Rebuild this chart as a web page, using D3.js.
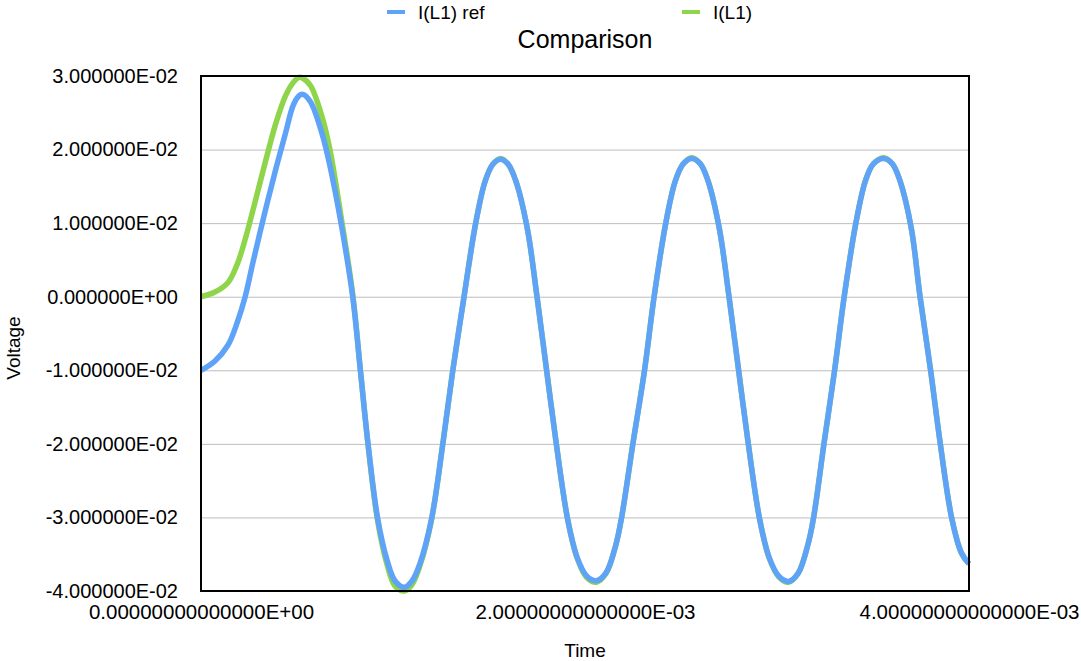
<!DOCTYPE html>
<html lang="en">
<head>
    <meta charset="UTF-8">
    <title>Comparison</title>
    <script src="https://d3js.org/d3.v7.min.js"></script>
    <style>
        body {
            margin: 0;
            background: white;
            font-family: "Liberation Sans", Arial, sans-serif;
        }
        .tick-label {
            font-size: 20px;
            fill: black;
        }
        .grid line {
            stroke: #bdbdbd;
            stroke-width: 1px;
        }
    </style>
</head>
<body>
    <div id="chart"></div>

    <script>
        // time in ms
        const timeMs = [
            0, 0.07, 0.14, 0.19, 0.23, 0.27, 0.33, 0.39, 0.44, 0.48, 0.51, 0.53, 0.57, 0.63, 0.67,
            0.73, 0.79, 0.83, 0.87, 0.92, 0.97, 1.01, 1.06, 1.10, 1.14,
            1.20, 1.26, 1.31, 1.37, 1.43, 1.48, 1.52, 1.56, 1.60, 1.64,
            1.70, 1.75, 1.80, 1.85, 1.91, 1.96, 2.01, 2.06, 2.11, 2.16,
            2.19, 2.25, 2.31, 2.36, 2.42, 2.47, 2.51, 2.555, 2.60, 2.64,
            2.70, 2.75, 2.80, 2.85, 2.91, 2.96, 3.01, 3.06, 3.11, 3.16,
            3.19, 3.245, 3.30, 3.35, 3.41, 3.46, 3.50, 3.555, 3.60, 3.64,
            3.70, 3.745, 3.80, 3.85, 3.91, 3.96, 4.00
        ];

        // I(L1) ref
        const refValues = [
            -0.0100, -0.0088, -0.0066, -0.0034, 0.0000, 0.0046, 0.0112, 0.0174, 0.0222, 0.0260, 0.0273, 0.0275, 0.0265, 0.0222, 0.0180,
            0.0099, 0.0000, -0.0100, -0.0200, -0.0301, -0.0359, -0.0386, -0.0395, -0.0386, -0.0363,
            -0.0303, -0.0199, -0.0103, 0.0000, 0.0099, 0.0157, 0.0180, 0.0187, 0.0180, 0.0157,
            0.0092, 0.0000, -0.0100, -0.0199, -0.0303, -0.0355, -0.0380, -0.0386, -0.0375, -0.0338,
            -0.0301, -0.0199, -0.0100, 0.0000, 0.0099, 0.0157, 0.0180, 0.0188, 0.0181, 0.0158,
            0.0092, 0.0000, -0.0100, -0.0199, -0.0303, -0.0355, -0.0380, -0.0387, -0.0376, -0.0338,
            -0.0301, -0.0199, -0.0100, 0.0000, 0.0099, 0.0157, 0.0180, 0.0188, 0.0181, 0.0158,
            0.0092, 0.0000, -0.0100, -0.0199, -0.0301, -0.0348, -0.0363
        ];

        // I(L1)
        const simValues = [
            0.0000, 0.0006, 0.0019, 0.0045, 0.0078, 0.0117, 0.0178, 0.0236, 0.0273, 0.0291, 0.0298, 0.0297, 0.0287, 0.0245, 0.0202,
            0.0108, 0.0004, -0.0099, -0.0201, -0.0305, -0.0365, -0.0393, -0.0400, -0.0391, -0.0366,
            -0.0304, -0.0199, -0.0103, 0.0000, 0.0099, 0.0157, 0.0180, 0.0188, 0.0180, 0.0157,
            0.0092, 0.0000, -0.0100, -0.0199, -0.0303, -0.0356, -0.0382, -0.0388, -0.0376, -0.0338,
            -0.0301, -0.0199, -0.0100, 0.0000, 0.0099, 0.0157, 0.0180, 0.0189, 0.0181, 0.0158,
            0.0092, 0.0000, -0.0100, -0.0199, -0.0303, -0.0356, -0.0381, -0.0388, -0.0376, -0.0338,
            -0.0301, -0.0199, -0.0100, 0.0000, 0.0099, 0.0157, 0.0180, 0.0189, 0.0181, 0.0158,
            0.0092, 0.0000, -0.0100, -0.0199, -0.0301, -0.0348, -0.0363
        ];

        const seriesNames = ["I(L1) ref", "I(L1)"];
        const seriesColors = ["#5ea3f8", "#8fd54b"];
        const xTicks = [0, 0.002, 0.004];
        const yTicks = [-0.04, -0.03, -0.02, -0.01, 0, 0.01, 0.02, 0.03];

        const width = 1081, height = 661;
        const margin = { top: 76, right: 112, bottom: 70, left: 201 };
        const plotW = width - margin.left - margin.right,
            plotH = height - margin.top - margin.bottom;

        const svg = d3.select("#chart")
            .append("svg")
            .attr("width", width)
            .attr("height", height);

        const g = svg.append("g")
            .attr("transform", `translate(${margin.left},${margin.top})`);

        const x = d3.scaleLinear().domain([0, 0.004]).range([0, plotW]);
        const y = d3.scaleLinear().domain([-0.04, 0.03]).range([plotH, 0]);

        // "3.000000E-02" style labels
        const sci = digits => d => d3.format(`.${digits}e`)(d)
            .replace("−", "-")
            .replace(/e([+-])(\d)$/, "E$10$2")
            .replace("e", "E");

        // horizontal grid
        g.append("g")
            .attr("class", "grid")
            .call(d3.axisLeft(y).tickValues(yTicks).tickSize(-plotW).tickFormat(""))
            .call(s => s.select(".domain").remove());

        // y tick labels
        const yAxis = g.append("g")
            .call(d3.axisLeft(y).tickValues(yTicks).tickSize(0).tickPadding(23).tickFormat(sci(6)));
        yAxis.select(".domain").remove();
        yAxis.selectAll("text").attr("class", "tick-label").style("font-family", "Liberation Sans, Arial, sans-serif");

        // x tick labels
        const xAxis = g.append("g")
            .attr("transform", `translate(0,${plotH})`)
            .call(d3.axisBottom(x).tickValues(xTicks).tickSize(0).tickPadding(13).tickFormat(sci(14)));
        xAxis.select(".domain").remove();
        xAxis.selectAll("text").attr("class", "tick-label")
            .style("font-size", "20.5px")
            .style("font-family", "Liberation Sans, Arial, sans-serif");

        // lines
        const line = vals => d3.line()
            .x((d, i) => x(timeMs[i] / 1000))
            .y(d => y(d))
            .curve(d3.curveCatmullRom.alpha(0.5))(vals);

        g.append("clipPath").attr("id", "clip")
            .append("rect").attr("x", -3).attr("y", -4).attr("width", plotW + 6).attr("height", plotH + 8);

        // green drawn first, blue on top
        const lines = g.append("g").attr("clip-path", "url(#clip)");
        [[simValues, seriesColors[1]], [refValues, seriesColors[0]]].forEach(([vals, col]) => {
            lines.append("path")
                .attr("d", line(vals))
                .attr("fill", "none")
                .attr("stroke", col)
                .attr("stroke-width", 5.5)
                .attr("stroke-linejoin", "round");
        });

        // frame
        g.append("rect")
            .attr("width", plotW)
            .attr("height", plotH)
            .attr("fill", "none")
            .attr("stroke", "black")
            .attr("stroke-width", 2);

        // title
        svg.append("text")
            .attr("x", 585)
            .attr("y", 48)
            .attr("text-anchor", "middle")
            .style("font-size", "25px")
            .text("Comparison");

        // legend
        const legendX = [387, 682];
        seriesNames.forEach((name, i) => {
            svg.append("line")
                .attr("x1", legendX[i]).attr("x2", legendX[i] + 18)
                .attr("y1", 12).attr("y2", 12)
                .attr("stroke", seriesColors[i])
                .attr("stroke-width", 4);
            svg.append("text")
                .attr("x", legendX[i] + 31)
                .attr("y", 19)
                .style("font-size", "19px")
                .text(name);
        });

        // axis titles
        svg.append("text")
            .attr("x", 585)
            .attr("y", 657)
            .attr("text-anchor", "middle")
            .style("font-size", "19px")
            .text("Time");

        svg.append("text")
            .attr("transform", `translate(20,${348}) rotate(-90)`)
            .attr("text-anchor", "middle")
            .style("font-size", "19px")
            .text("Voltage");
    </script>
</body>
</html>
